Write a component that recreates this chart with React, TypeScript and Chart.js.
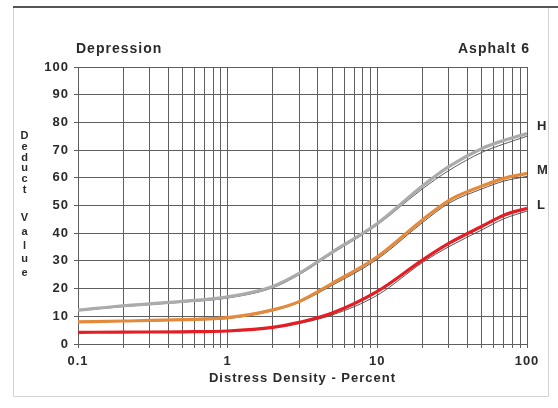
import React, { useEffect, useRef } from "react";
import { Chart, registerables } from "chart.js";

Chart.register(...registerables);

// Distress density (percent) sample points
const densities = [0.1, 0.2, 0.5, 1, 2, 3, 5, 10, 20, 30, 50, 70, 100];

// Deduct value curves by severity
const highValues = [12.2, 13.8, 15.4, 17, 20.8, 25.5, 33.2, 43.5, 57, 64, 70.6, 73.5, 76];
const highTrace = [12, 13.5, 15.1, 16.6, 20.3, 25, 32.7, 43, 56, 62.6, 69.2, 72.2, 75];
const mediumValues = [8, 8.3, 8.8, 9.5, 12.3, 15.3, 21.9, 31.5, 44.8, 51.8, 57, 59.8, 61.6];
const mediumTrace = [8, 8.2, 8.6, 9.2, 12, 15, 21.2, 30.6, 43.8, 50.8, 56, 58.8, 60.5];
const lowValues = [4.2, 4.3, 4.4, 4.7, 6, 7.8, 11.2, 19, 30.3, 36.3, 42.5, 46.5, 49];
const lowTrace = [4.2, 4.3, 4.4, 4.6, 5.8, 7.4, 10.5, 17.6, 29.4, 35.1, 41.2, 45.2, 48];

// Axis ticks
const xGridValues = [
  0.1, 0.2, 0.3, 0.4, 0.5, 0.6, 0.7, 0.8, 0.9,
  1, 2, 3, 4, 5, 6, 7, 8, 9,
  10, 20, 30, 40, 50, 60, 70, 80, 90, 100,
];
const xLabeledValues = [0.1, 1, 10, 100];
const yTickValues = [0, 10, 20, 30, 40, 50, 60, 70, 80, 90, 100];

// Severity markers beside the curve ends, placed on the deduct-value scale
const severityNames = ["H", "M", "L"];
const severityLevels = [78.6, 62.6, 50];

const FONT = "'Liberation Sans', Arial, sans-serif";
const GRID = "#5e5e5e";

const toPoints = (ys: number[]) => densities.map((x, i) => ({ x, y: ys[i] }));

const decorations = {
  id: "decorations",
  beforeDraw(chart: any) {
    const ctx = chart.ctx as CanvasRenderingContext2D;
    ctx.save();
    ctx.fillStyle = "#ffffff";
    ctx.fillRect(0, 0, chart.width, chart.height);
    // page frame
    ctx.strokeStyle = "#d4d4d4";
    ctx.lineWidth = 1;
    ctx.beginPath();
    ctx.moveTo(13.5, 8);
    ctx.lineTo(13.5, 396.5);
    ctx.lineTo(548.5, 396.5);
    ctx.lineTo(548.5, 8);
    ctx.stroke();
    ctx.strokeStyle = "#555555";
    ctx.lineWidth = 2;
    ctx.beginPath();
    ctx.moveTo(13, 7);
    ctx.lineTo(558, 7);
    ctx.stroke();
    ctx.restore();
    // spaced lettering for all text drawn afterwards
    (ctx as any).letterSpacing = "1px";
  },
  afterDraw(chart: any) {
    const ctx = chart.ctx as CanvasRenderingContext2D;
    const { chartArea } = chart;
    const yScale = chart.scales.y;
    ctx.save();
    (ctx as any).letterSpacing = "1px";
    ctx.fillStyle = "#2a2a2a";
    ctx.textBaseline = "alphabetic";

    ctx.font = `bold 14px ${FONT}`;
    ctx.textAlign = "left";
    ctx.fillText("Depression", 76, 53);
    ctx.textAlign = "right";
    ctx.fillText("Asphalt 6", 530, 53);

    ctx.font = `bold 13px ${FONT}`;
    ctx.textAlign = "center";
    ctx.fillText("Distress Density - Percent", (chartArea.left + chartArea.right) / 2, 382);

    // stacked vertical axis title
    ctx.font = `bold 11px ${FONT}`;
    ctx.textBaseline = "middle";
    "Deduct".split("").forEach((ch, i) => ctx.fillText(ch, 25, 136 + i * 10.8));
    "Value".split("").forEach((ch, i) => ctx.fillText(ch, 25, 218 + i * 13.8));

    // severity markers
    ctx.font = `bold 13px ${FONT}`;
    ctx.textAlign = "left";
    severityNames.forEach((name, i) => {
      ctx.fillText(name, 537, yScale.getPixelForValue(severityLevels[i]));
    });
    ctx.restore();
  },
};

export default function App() {
  const canvasRef = useRef<HTMLCanvasElement | null>(null);

  useEffect(() => {
    if (!canvasRef.current) return;
    const chart = new Chart(canvasRef.current, {
      type: "line",
      data: {
        datasets: [
          { label: "H", data: toPoints(highValues), borderColor: "#ababab", borderWidth: 3.2, order: 0 },
          { label: "H trace", data: toPoints(highTrace), borderColor: "#5c5c5c", borderWidth: 1, order: 1 },
          { label: "M", data: toPoints(mediumValues), borderColor: "#e48a3c", borderWidth: 3.2, order: 0 },
          { label: "M trace", data: toPoints(mediumTrace), borderColor: "#555555", borderWidth: 1, order: 1 },
          { label: "L", data: toPoints(lowValues), borderColor: "#e41e24", borderWidth: 3.2, order: 0 },
          { label: "L trace", data: toPoints(lowTrace), borderColor: "#555555", borderWidth: 1, order: 1 },
        ].map((d) => ({ ...d, pointRadius: 0, fill: false, cubicInterpolationMode: "monotone" as const })),
      },
      options: {
        animation: false,
        responsive: true,
        maintainAspectRatio: false,
        layout: { padding: { left: 0, top: 67, right: 31, bottom: 0 } },
        plugins: { legend: { display: false }, tooltip: { enabled: false } },
        scales: {
          x: {
            type: "logarithmic",
            min: 0.1,
            max: 100,
            afterBuildTicks: (scale: any) => {
              scale.ticks = xGridValues.map((v) => ({ value: v }));
            },
            afterFit: (scale: any) => {
              scale.height = 64;
            },
            border: { color: GRID, width: 1 },
            grid: { color: GRID, lineWidth: 1, tickLength: 4, drawTicks: true },
            ticks: {
              autoSkip: false,
              maxRotation: 0,
              padding: 6,
              color: "#2a2a2a",
              font: { family: FONT, size: 13, weight: "bold" },
              callback: (value: any) => (xLabeledValues.includes(Number(value)) ? String(value) : ""),
            },
          },
          y: {
            min: 0,
            max: 100,
            afterBuildTicks: (scale: any) => {
              scale.ticks = yTickValues.map((v) => ({ value: v }));
            },
            afterFit: (scale: any) => {
              scale.width = 78;
            },
            border: { color: GRID, width: 1 },
            grid: { color: GRID, lineWidth: 1, tickLength: 4, drawTicks: true },
            ticks: {
              padding: 5,
              color: "#2a2a2a",
              font: { family: FONT, size: 13, weight: "bold" },
            },
          },
        },
      },
      plugins: [decorations],
    });
    return () => chart.destroy();
  }, []);

  return (
    <div style={{ position: "fixed", left: 0, top: 0, width: 558, height: 408 }}>
      <canvas ref={canvasRef} />
    </div>
  );
}
